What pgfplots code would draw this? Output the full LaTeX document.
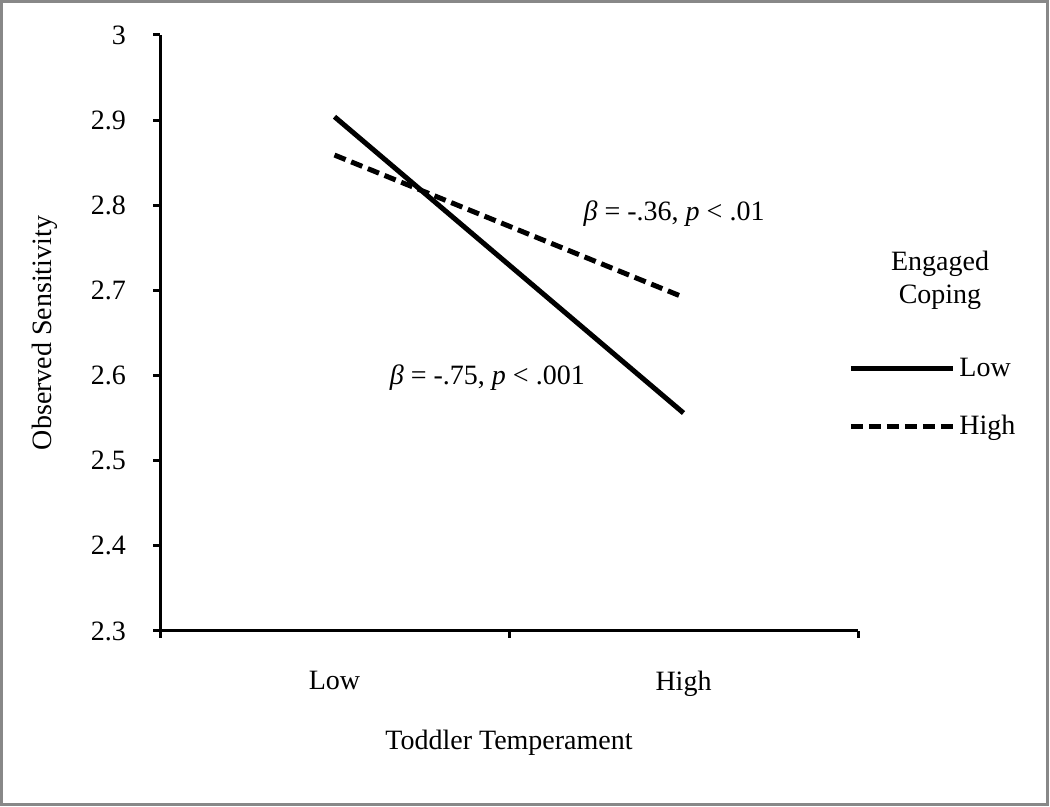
\documentclass[border=0pt]{standalone}
\usepackage{pgfplots}
\pgfplotsset{compat=1.18}
\usepackage{fontspec}
\setmainfont{Liberation Serif}
\definecolor{framegray}{HTML}{888888}

\begin{document}
\begin{tikzpicture}[x=0.5pt,y=0.5pt]
\path (0,0) rectangle (1050,807);
\draw[framegray, line width=1.5pt] (1.5,2.5) rectangle (1047,805.5);
\begin{axis}[
  at={(80pt,88pt)}, anchor=south west,
  scale only axis, width=349pt, height=298pt,
  xmin=0, xmax=2, ymin=2.3, ymax=3,
  axis lines*=left,
  axis line style={line width=1.5pt},
  every tick/.style={black, line width=1.5pt},
  tick align=outside, major tick length=3.5pt,
  xtick={0,1,2}, xticklabels={},
  extra x ticks={0.5,1.5}, extra x tick labels={Low,High},
  extra x tick style={major tick length=0pt, xticklabel style={yshift=-16.5pt}},
  ytick={2.3,2.4,2.5,2.6,2.7,2.8,2.9,3},
  yticklabels={2.3,2.4,2.5,2.6,2.7,2.8,2.9,3},
  yticklabel style={xshift=-10pt},
  /pgf/number format/assume math mode=true,
  tick label style={font=\fontsize{14}{16}\selectfont},
  label style={font=\fontsize{14}{16}\selectfont},
  xlabel={Toddler Temperament},
  xlabel style={at={(axis description cs:0.5,-0.188)}, anchor=center},
  ylabel={Observed Sensitivity},
  ylabel style={at={(axis description cs:-0.165,0.5)}, anchor=center},
  clip=false,
  legend style={draw=none, fill=none, inner sep=0pt,
    at={(axis description cs:0.9857,0.391)}, anchor=west,
    font=\fontsize{14}{16}\selectfont, row sep=14pt},
  legend cell align=left,
  legend image code/.code={\draw[#1] (0pt,0pt) -- (51pt,0pt);},
]
\addplot[black, line width=2.5pt] coordinates {(0.5,2.904) (1.5,2.556)};
\addlegendentry{Low}
\addplot[black, line width=2.5pt, dash pattern=on 6pt off 3pt] coordinates {(0.5,2.859) (1.5,2.692)};
\addlegendentry{High}
\node[font=\fontsize{14}{16}\selectfont] at (axis cs:0.938,2.598) {\textit{β} = -.75, \textit{p} < .001};
\node[font=\fontsize{14}{16}\selectfont] at (axis cs:1.473,2.790) {\textit{β} = -.36, \textit{p} < .01};
\node[font=\fontsize{14}{16.5}\selectfont, align=center] at (axis description cs:1.1175,0.589) {Engaged\\Coping};
\end{axis}
\end{tikzpicture}
\end{document}
